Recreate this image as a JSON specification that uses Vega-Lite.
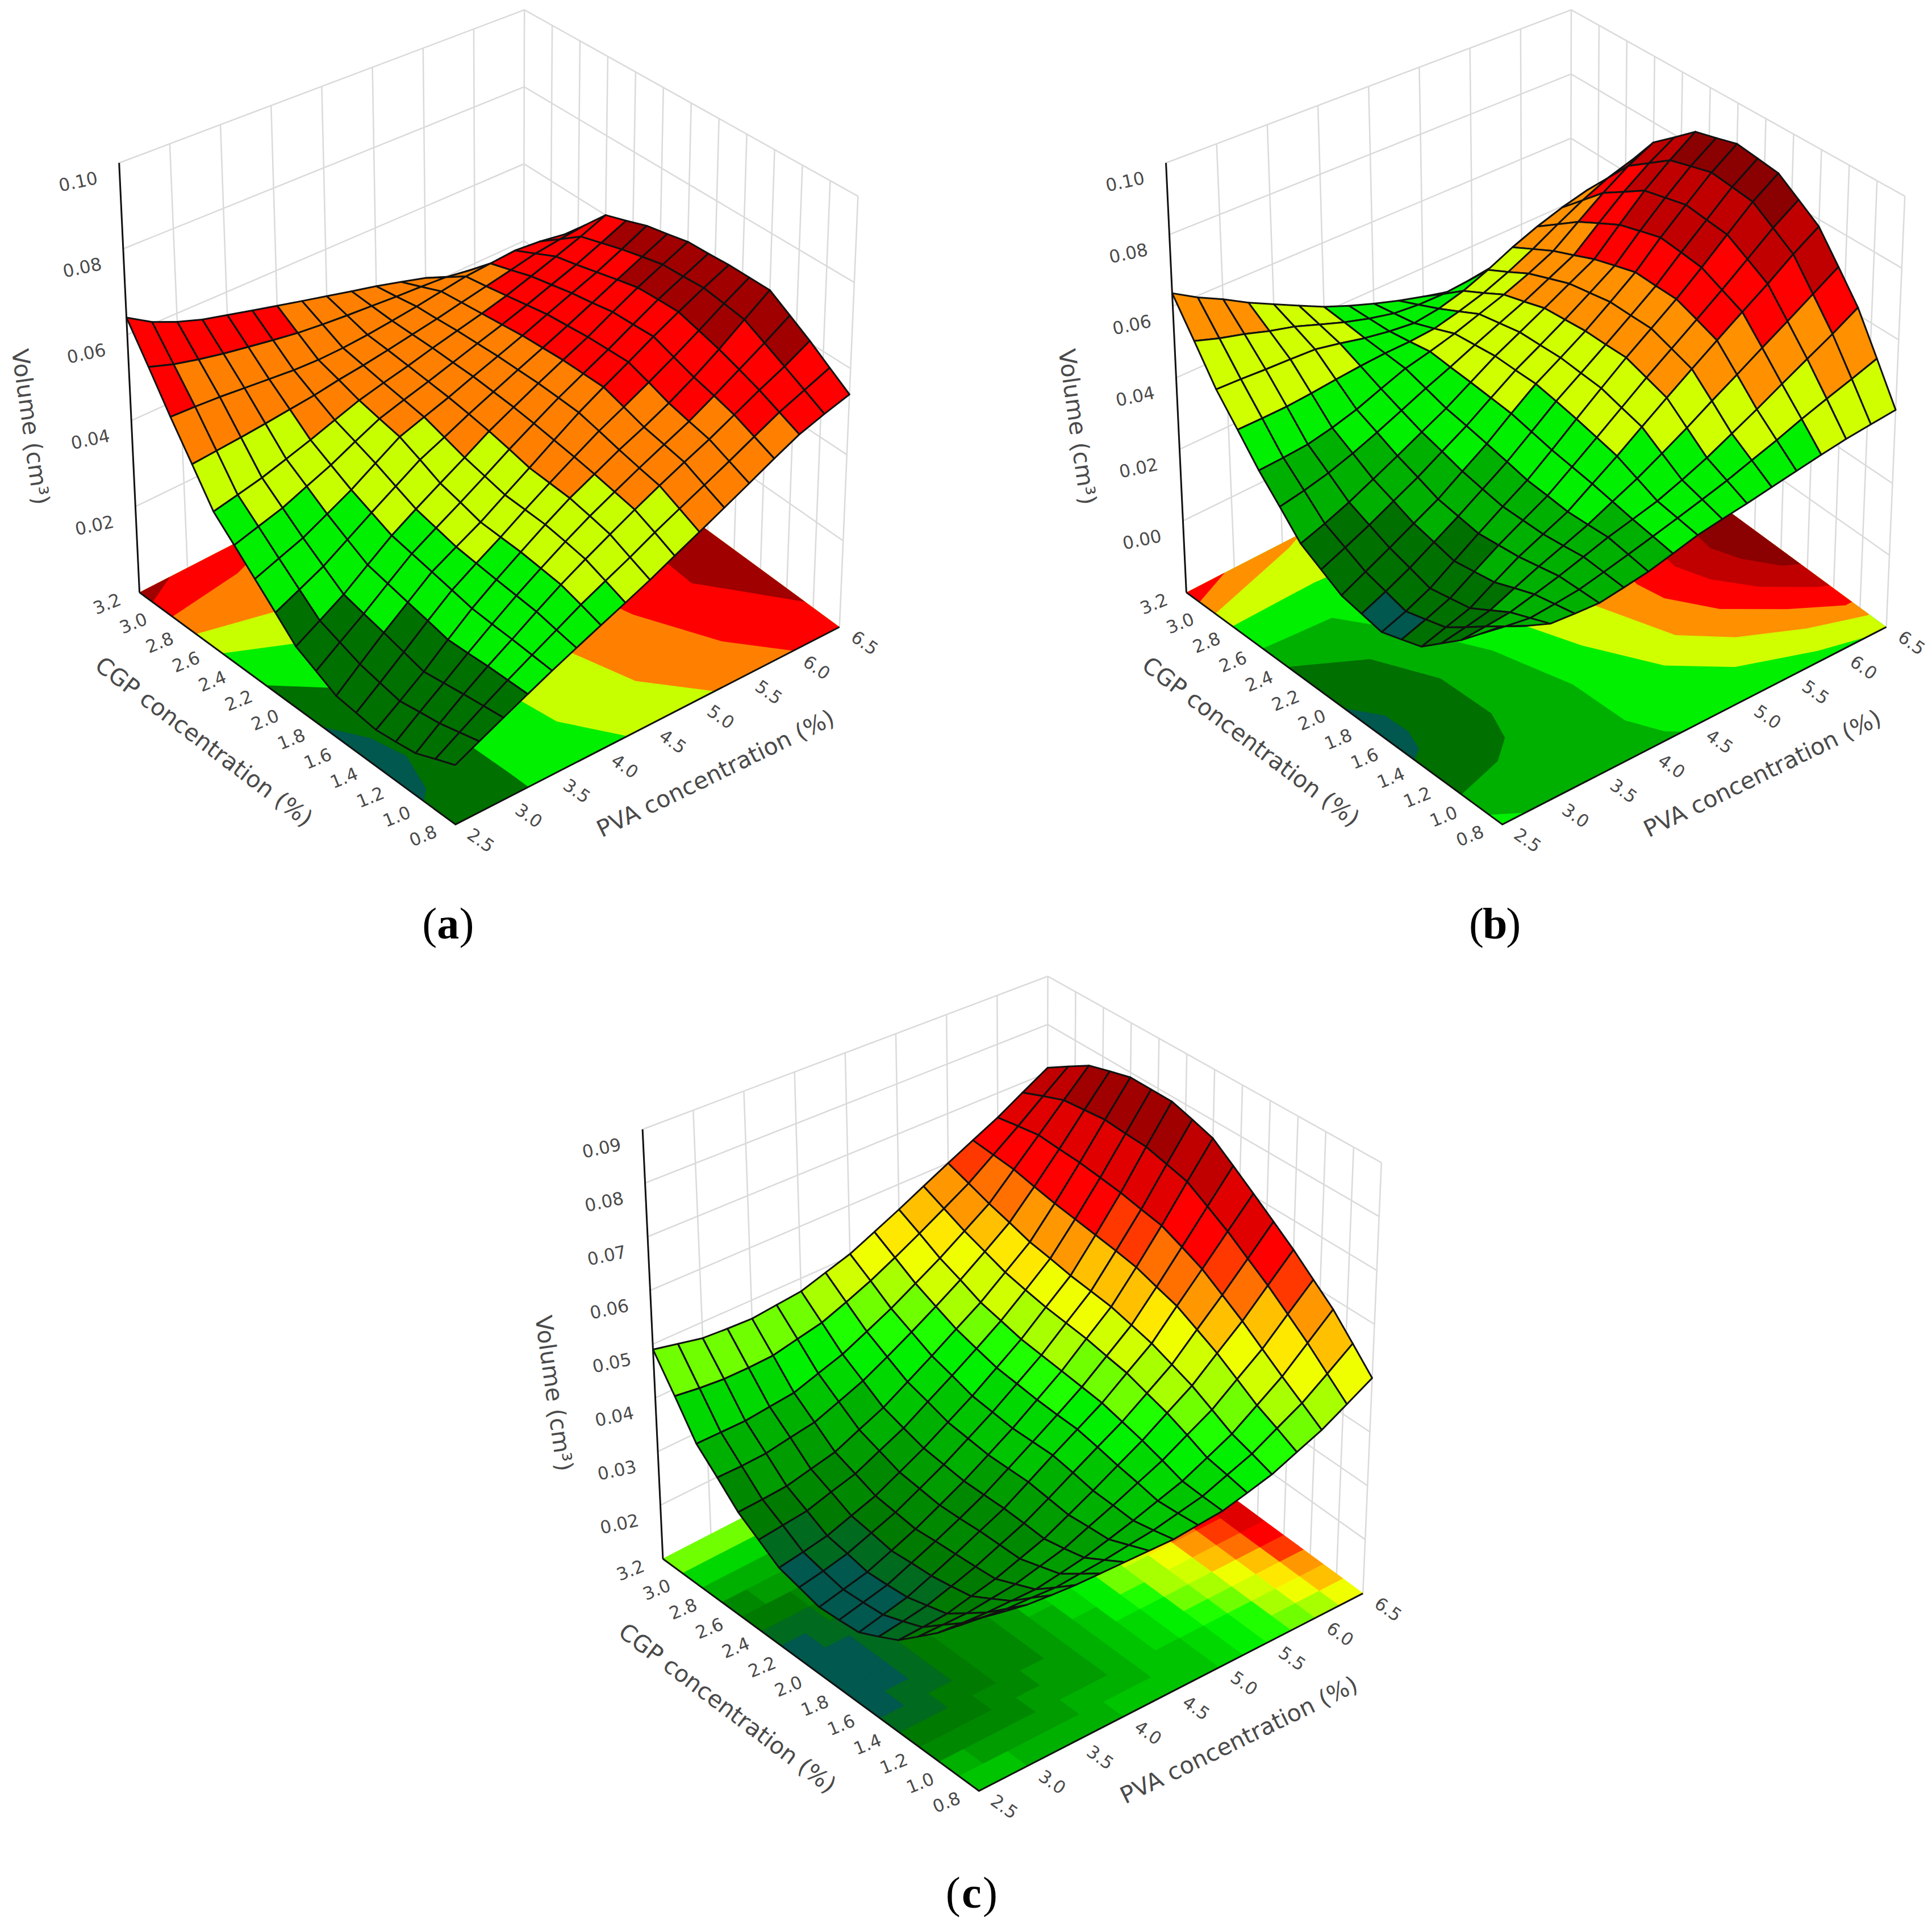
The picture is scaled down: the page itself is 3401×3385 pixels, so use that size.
{"$schema":"https://vega.github.io/schema/vega-lite/v6.json","width":3401,"height":3385,"autosize":{"type":"fit","contains":"padding"},"padding":0,"background":"white","config":{"view":{"stroke":null}},
"resolve":{"scale":{"fill":"independent","stroke":"independent"}},
"encoding":{"x":{"field":"sx","type":"quantitative","axis":null,"scale":{"domain":[0,1565],"nice":false,"zero":false}},"y":{"field":"sy","type":"quantitative","axis":null,"scale":{"domain":[0,1558],"nice":false,"zero":false,"reverse":true}}},
"datasets":{
"surfaceA":[
{"pva":6.5,"cgp":3.2,"vol":0.032},{"pva":6.25,"cgp":3.2,"vol":0.0345},{"pva":6,"cgp":3.2,"vol":0.037},{"pva":5.75,"cgp":3.2,"vol":0.0395},{"pva":5.5,"cgp":3.2,"vol":0.042},{"pva":5.25,"cgp":3.2,"vol":0.0438},{"pva":5,"cgp":3.2,"vol":0.0455},{"pva":4.75,"cgp":3.2,"vol":0.047},{"pva":4.5,"cgp":3.2,"vol":0.0485},{"pva":4.25,"cgp":3.2,"vol":0.05},{"pva":4,"cgp":3.2,"vol":0.0515},{"pva":3.75,"cgp":3.2,"vol":0.053},{"pva":3.5,"cgp":3.2,"vol":0.0545},{"pva":3.25,"cgp":3.2,"vol":0.056},{"pva":3,"cgp":3.2,"vol":0.058},{"pva":2.75,"cgp":3.2,"vol":0.0605},{"pva":2.5,"cgp":3.2,"vol":0.064},
{"pva":6.5,"cgp":3.05,"vol":0.0402},{"pva":6.25,"cgp":3.05,"vol":0.042},{"pva":6,"cgp":3.05,"vol":0.0435},{"pva":5.75,"cgp":3.05,"vol":0.0445},{"pva":5.5,"cgp":3.05,"vol":0.0455},{"pva":5.25,"cgp":3.05,"vol":0.0459},{"pva":5,"cgp":3.05,"vol":0.0462},{"pva":4.75,"cgp":3.05,"vol":0.0466},{"pva":4.5,"cgp":3.05,"vol":0.047},{"pva":4.25,"cgp":3.05,"vol":0.0475},{"pva":4,"cgp":3.05,"vol":0.0481},{"pva":3.75,"cgp":3.05,"vol":0.049},{"pva":3.5,"cgp":3.05,"vol":0.05},{"pva":3.25,"cgp":3.05,"vol":0.051},{"pva":3,"cgp":3.05,"vol":0.0522},{"pva":2.75,"cgp":3.05,"vol":0.0536},{"pva":2.5,"cgp":3.05,"vol":0.0555},
{"pva":6.5,"cgp":2.9,"vol":0.0485},{"pva":6.25,"cgp":2.9,"vol":0.0495},{"pva":6,"cgp":2.9,"vol":0.05},{"pva":5.75,"cgp":2.9,"vol":0.0495},{"pva":5.5,"cgp":2.9,"vol":0.049},{"pva":5.25,"cgp":2.9,"vol":0.048},{"pva":5,"cgp":2.9,"vol":0.047},{"pva":4.75,"cgp":2.9,"vol":0.0462},{"pva":4.5,"cgp":2.9,"vol":0.0455},{"pva":4.25,"cgp":2.9,"vol":0.045},{"pva":4,"cgp":2.9,"vol":0.0448},{"pva":3.75,"cgp":2.9,"vol":0.045},{"pva":3.5,"cgp":2.9,"vol":0.0455},{"pva":3.25,"cgp":2.9,"vol":0.046},{"pva":3,"cgp":2.9,"vol":0.0465},{"pva":2.75,"cgp":2.9,"vol":0.0468},{"pva":2.5,"cgp":2.9,"vol":0.047},
{"pva":6.5,"cgp":2.75,"vol":0.0542},{"pva":6.25,"cgp":2.75,"vol":0.0534},{"pva":6,"cgp":2.75,"vol":0.0525},{"pva":5.75,"cgp":2.75,"vol":0.0511},{"pva":5.5,"cgp":2.75,"vol":0.0498},{"pva":5.25,"cgp":2.75,"vol":0.0485},{"pva":5,"cgp":2.75,"vol":0.0472},{"pva":4.75,"cgp":2.75,"vol":0.0461},{"pva":4.5,"cgp":2.75,"vol":0.045},{"pva":4.25,"cgp":2.75,"vol":0.044},{"pva":4,"cgp":2.75,"vol":0.0432},{"pva":3.75,"cgp":2.75,"vol":0.0422},{"pva":3.5,"cgp":2.75,"vol":0.0415},{"pva":3.25,"cgp":2.75,"vol":0.0408},{"pva":3,"cgp":2.75,"vol":0.0402},{"pva":2.75,"cgp":2.75,"vol":0.0397},{"pva":2.5,"cgp":2.75,"vol":0.0392},
{"pva":6.5,"cgp":2.6,"vol":0.06},{"pva":6.25,"cgp":2.6,"vol":0.0573},{"pva":6,"cgp":2.6,"vol":0.055},{"pva":5.75,"cgp":2.6,"vol":0.0528},{"pva":5.5,"cgp":2.6,"vol":0.0507},{"pva":5.25,"cgp":2.6,"vol":0.049},{"pva":5,"cgp":2.6,"vol":0.0475},{"pva":4.75,"cgp":2.6,"vol":0.046},{"pva":4.5,"cgp":2.6,"vol":0.0444},{"pva":4.25,"cgp":2.6,"vol":0.043},{"pva":4,"cgp":2.6,"vol":0.0415},{"pva":3.75,"cgp":2.6,"vol":0.0395},{"pva":3.5,"cgp":2.6,"vol":0.0375},{"pva":3.25,"cgp":2.6,"vol":0.0357},{"pva":3,"cgp":2.6,"vol":0.034},{"pva":2.75,"cgp":2.6,"vol":0.0327},{"pva":2.5,"cgp":2.6,"vol":0.0315},
{"pva":6.5,"cgp":2.45,"vol":0.0618},{"pva":6.25,"cgp":2.45,"vol":0.0589},{"pva":6,"cgp":2.45,"vol":0.0562},{"pva":5.75,"cgp":2.45,"vol":0.0539},{"pva":5.5,"cgp":2.45,"vol":0.0516},{"pva":5.25,"cgp":2.45,"vol":0.0495},{"pva":5,"cgp":2.45,"vol":0.0476},{"pva":4.75,"cgp":2.45,"vol":0.0457},{"pva":4.5,"cgp":2.45,"vol":0.0438},{"pva":4.25,"cgp":2.45,"vol":0.0421},{"pva":4,"cgp":2.45,"vol":0.0403},{"pva":3.75,"cgp":2.45,"vol":0.0376},{"pva":3.5,"cgp":2.45,"vol":0.0348},{"pva":3.25,"cgp":2.45,"vol":0.0325},{"pva":3,"cgp":2.45,"vol":0.0302},{"pva":2.75,"cgp":2.45,"vol":0.0286},{"pva":2.5,"cgp":2.45,"vol":0.027},
{"pva":6.5,"cgp":2.3,"vol":0.0637},{"pva":6.25,"cgp":2.3,"vol":0.0605},{"pva":6,"cgp":2.3,"vol":0.0575},{"pva":5.75,"cgp":2.3,"vol":0.055},{"pva":5.5,"cgp":2.3,"vol":0.0525},{"pva":5.25,"cgp":2.3,"vol":0.05},{"pva":5,"cgp":2.3,"vol":0.0477},{"pva":4.75,"cgp":2.3,"vol":0.0455},{"pva":4.5,"cgp":2.3,"vol":0.0432},{"pva":4.25,"cgp":2.3,"vol":0.0412},{"pva":4,"cgp":2.3,"vol":0.0392},{"pva":3.75,"cgp":2.3,"vol":0.0357},{"pva":3.5,"cgp":2.3,"vol":0.0322},{"pva":3.25,"cgp":2.3,"vol":0.0293},{"pva":3,"cgp":2.3,"vol":0.0265},{"pva":2.75,"cgp":2.3,"vol":0.0245},{"pva":2.5,"cgp":2.3,"vol":0.0225},
{"pva":6.5,"cgp":2.15,"vol":0.0648},{"pva":6.25,"cgp":2.15,"vol":0.0618},{"pva":6,"cgp":2.15,"vol":0.0588},{"pva":5.75,"cgp":2.15,"vol":0.0558},{"pva":5.5,"cgp":2.15,"vol":0.0529},{"pva":5.25,"cgp":2.15,"vol":0.0502},{"pva":5,"cgp":2.15,"vol":0.0476},{"pva":4.75,"cgp":2.15,"vol":0.045},{"pva":4.5,"cgp":2.15,"vol":0.0424},{"pva":4.25,"cgp":2.15,"vol":0.0396},{"pva":4,"cgp":2.15,"vol":0.037},{"pva":3.75,"cgp":2.15,"vol":0.0335},{"pva":3.5,"cgp":2.15,"vol":0.0301},{"pva":3.25,"cgp":2.15,"vol":0.0266},{"pva":3,"cgp":2.15,"vol":0.0232},{"pva":2.75,"cgp":2.15,"vol":0.0206},{"pva":2.5,"cgp":2.15,"vol":0.0181},
{"pva":6.5,"cgp":2,"vol":0.066},{"pva":6.25,"cgp":2,"vol":0.063},{"pva":6,"cgp":2,"vol":0.06},{"pva":5.75,"cgp":2,"vol":0.0567},{"pva":5.5,"cgp":2,"vol":0.0533},{"pva":5.25,"cgp":2,"vol":0.0504},{"pva":5,"cgp":2,"vol":0.0475},{"pva":4.75,"cgp":2,"vol":0.0445},{"pva":4.5,"cgp":2,"vol":0.0415},{"pva":4.25,"cgp":2,"vol":0.038},{"pva":4,"cgp":2,"vol":0.0347},{"pva":3.75,"cgp":2,"vol":0.0314},{"pva":3.5,"cgp":2,"vol":0.028},{"pva":3.25,"cgp":2,"vol":0.024},{"pva":3,"cgp":2,"vol":0.02},{"pva":2.75,"cgp":2,"vol":0.0168},{"pva":2.5,"cgp":2,"vol":0.0137},
{"pva":6.5,"cgp":1.85,"vol":0.0662},{"pva":6.25,"cgp":1.85,"vol":0.0632},{"pva":6,"cgp":1.85,"vol":0.0602},{"pva":5.75,"cgp":1.85,"vol":0.0568},{"pva":5.5,"cgp":1.85,"vol":0.0534},{"pva":5.25,"cgp":1.85,"vol":0.0503},{"pva":5,"cgp":1.85,"vol":0.0472},{"pva":4.75,"cgp":1.85,"vol":0.0438},{"pva":4.5,"cgp":1.85,"vol":0.0404},{"pva":4.25,"cgp":1.85,"vol":0.0368},{"pva":4,"cgp":1.85,"vol":0.0334},{"pva":3.75,"cgp":1.85,"vol":0.0302},{"pva":3.5,"cgp":1.85,"vol":0.027},{"pva":3.25,"cgp":1.85,"vol":0.0229},{"pva":3,"cgp":1.85,"vol":0.0188},{"pva":2.75,"cgp":1.85,"vol":0.0151},{"pva":2.5,"cgp":1.85,"vol":0.0114},
{"pva":6.5,"cgp":1.7,"vol":0.0665},{"pva":6.25,"cgp":1.7,"vol":0.0635},{"pva":6,"cgp":1.7,"vol":0.0603},{"pva":5.75,"cgp":1.7,"vol":0.057},{"pva":5.5,"cgp":1.7,"vol":0.0535},{"pva":5.25,"cgp":1.7,"vol":0.0502},{"pva":5,"cgp":1.7,"vol":0.0468},{"pva":4.75,"cgp":1.7,"vol":0.043},{"pva":4.5,"cgp":1.7,"vol":0.0392},{"pva":4.25,"cgp":1.7,"vol":0.0356},{"pva":4,"cgp":1.7,"vol":0.032},{"pva":3.75,"cgp":1.7,"vol":0.029},{"pva":3.5,"cgp":1.7,"vol":0.026},{"pva":3.25,"cgp":1.7,"vol":0.0218},{"pva":3,"cgp":1.7,"vol":0.0177},{"pva":2.75,"cgp":1.7,"vol":0.0134},{"pva":2.5,"cgp":1.7,"vol":0.0091},
{"pva":6.5,"cgp":1.55,"vol":0.0665},{"pva":6.25,"cgp":1.55,"vol":0.0628},{"pva":6,"cgp":1.55,"vol":0.0589},{"pva":5.75,"cgp":1.55,"vol":0.0552},{"pva":5.5,"cgp":1.55,"vol":0.0518},{"pva":5.25,"cgp":1.55,"vol":0.0486},{"pva":5,"cgp":1.55,"vol":0.0456},{"pva":4.75,"cgp":1.55,"vol":0.0422},{"pva":4.5,"cgp":1.55,"vol":0.0388},{"pva":4.25,"cgp":1.55,"vol":0.0353},{"pva":4,"cgp":1.55,"vol":0.0317},{"pva":3.75,"cgp":1.55,"vol":0.0284},{"pva":3.5,"cgp":1.55,"vol":0.025},{"pva":3.25,"cgp":1.55,"vol":0.0208},{"pva":3,"cgp":1.55,"vol":0.0165},{"pva":2.75,"cgp":1.55,"vol":0.0124},{"pva":2.5,"cgp":1.55,"vol":0.0085},
{"pva":6.5,"cgp":1.4,"vol":0.0665},{"pva":6.25,"cgp":1.4,"vol":0.062},{"pva":6,"cgp":1.4,"vol":0.0575},{"pva":5.75,"cgp":1.4,"vol":0.0535},{"pva":5.5,"cgp":1.4,"vol":0.05},{"pva":5.25,"cgp":1.4,"vol":0.047},{"pva":5,"cgp":1.4,"vol":0.0443},{"pva":4.75,"cgp":1.4,"vol":0.0413},{"pva":4.5,"cgp":1.4,"vol":0.0384},{"pva":4.25,"cgp":1.4,"vol":0.035},{"pva":4,"cgp":1.4,"vol":0.0314},{"pva":3.75,"cgp":1.4,"vol":0.0278},{"pva":3.5,"cgp":1.4,"vol":0.024},{"pva":3.25,"cgp":1.4,"vol":0.0197},{"pva":3,"cgp":1.4,"vol":0.0153},{"pva":2.75,"cgp":1.4,"vol":0.0115},{"pva":2.5,"cgp":1.4,"vol":0.0079},
{"pva":6.5,"cgp":1.25,"vol":0.0635},{"pva":6.25,"cgp":1.25,"vol":0.0595},{"pva":6,"cgp":1.25,"vol":0.0558},{"pva":5.75,"cgp":1.25,"vol":0.0522},{"pva":5.5,"cgp":1.25,"vol":0.0488},{"pva":5.25,"cgp":1.25,"vol":0.046},{"pva":5,"cgp":1.25,"vol":0.0432},{"pva":4.75,"cgp":1.25,"vol":0.0403},{"pva":4.5,"cgp":1.25,"vol":0.0374},{"pva":4.25,"cgp":1.25,"vol":0.0342},{"pva":4,"cgp":1.25,"vol":0.0308},{"pva":3.75,"cgp":1.25,"vol":0.0273},{"pva":3.5,"cgp":1.25,"vol":0.0236},{"pva":3.25,"cgp":1.25,"vol":0.0198},{"pva":3,"cgp":1.25,"vol":0.0159},{"pva":2.75,"cgp":1.25,"vol":0.0122},{"pva":2.5,"cgp":1.25,"vol":0.0084},
{"pva":6.5,"cgp":1.1,"vol":0.0605},{"pva":6.25,"cgp":1.1,"vol":0.057},{"pva":6,"cgp":1.1,"vol":0.054},{"pva":5.75,"cgp":1.1,"vol":0.0508},{"pva":5.5,"cgp":1.1,"vol":0.0477},{"pva":5.25,"cgp":1.1,"vol":0.045},{"pva":5,"cgp":1.1,"vol":0.0422},{"pva":4.75,"cgp":1.1,"vol":0.0393},{"pva":4.5,"cgp":1.1,"vol":0.0363},{"pva":4.25,"cgp":1.1,"vol":0.0333},{"pva":4,"cgp":1.1,"vol":0.0302},{"pva":3.75,"cgp":1.1,"vol":0.0268},{"pva":3.5,"cgp":1.1,"vol":0.0233},{"pva":3.25,"cgp":1.1,"vol":0.02},{"pva":3,"cgp":1.1,"vol":0.0165},{"pva":2.75,"cgp":1.1,"vol":0.0128},{"pva":2.5,"cgp":1.1,"vol":0.009},
{"pva":6.5,"cgp":0.95,"vol":0.0572},{"pva":6.25,"cgp":0.95,"vol":0.0545},{"pva":6,"cgp":0.95,"vol":0.0519},{"pva":5.75,"cgp":0.95,"vol":0.0488},{"pva":5.5,"cgp":0.95,"vol":0.0457},{"pva":5.25,"cgp":0.95,"vol":0.0428},{"pva":5,"cgp":0.95,"vol":0.04},{"pva":4.75,"cgp":0.95,"vol":0.0372},{"pva":4.5,"cgp":0.95,"vol":0.0342},{"pva":4.25,"cgp":0.95,"vol":0.0315},{"pva":4,"cgp":0.95,"vol":0.0288},{"pva":3.75,"cgp":0.95,"vol":0.0258},{"pva":3.5,"cgp":0.95,"vol":0.0229},{"pva":3.25,"cgp":0.95,"vol":0.02},{"pva":3,"cgp":0.95,"vol":0.017},{"pva":2.75,"cgp":0.95,"vol":0.0139},{"pva":2.5,"cgp":0.95,"vol":0.0108},
{"pva":6.5,"cgp":0.8,"vol":0.054},{"pva":6.25,"cgp":0.8,"vol":0.052},{"pva":6,"cgp":0.8,"vol":0.0498},{"pva":5.75,"cgp":0.8,"vol":0.0468},{"pva":5.5,"cgp":0.8,"vol":0.0437},{"pva":5.25,"cgp":0.8,"vol":0.0407},{"pva":5,"cgp":0.8,"vol":0.0378},{"pva":4.75,"cgp":0.8,"vol":0.035},{"pva":4.5,"cgp":0.8,"vol":0.0322},{"pva":4.25,"cgp":0.8,"vol":0.0297},{"pva":4,"cgp":0.8,"vol":0.0273},{"pva":3.75,"cgp":0.8,"vol":0.0249},{"pva":3.5,"cgp":0.8,"vol":0.0225},{"pva":3.25,"cgp":0.8,"vol":0.02},{"pva":3,"cgp":0.8,"vol":0.0175},{"pva":2.75,"cgp":0.8,"vol":0.015},{"pva":2.5,"cgp":0.8,"vol":0.0125}],
"surfaceB":[
{"pva":6.5,"cgp":3.2,"vol":0.03},{"pva":6.25,"cgp":3.2,"vol":0.028},{"pva":6,"cgp":3.2,"vol":0.0265},{"pva":5.75,"cgp":3.2,"vol":0.027},{"pva":5.5,"cgp":3.2,"vol":0.028},{"pva":5.25,"cgp":3.2,"vol":0.0296},{"pva":5,"cgp":3.2,"vol":0.0315},{"pva":4.75,"cgp":3.2,"vol":0.0336},{"pva":4.5,"cgp":3.2,"vol":0.036},{"pva":4.25,"cgp":3.2,"vol":0.0386},{"pva":4,"cgp":3.2,"vol":0.0415},{"pva":3.75,"cgp":3.2,"vol":0.045},{"pva":3.5,"cgp":3.2,"vol":0.0485},{"pva":3.25,"cgp":3.2,"vol":0.052},{"pva":3,"cgp":3.2,"vol":0.056},{"pva":2.75,"cgp":3.2,"vol":0.0595},{"pva":2.5,"cgp":3.2,"vol":0.0636},
{"pva":6.5,"cgp":3.05,"vol":0.043},{"pva":6.25,"cgp":3.05,"vol":0.0415},{"pva":6,"cgp":3.05,"vol":0.0398},{"pva":5.75,"cgp":3.05,"vol":0.0388},{"pva":5.5,"cgp":3.05,"vol":0.0378},{"pva":5.25,"cgp":3.05,"vol":0.0368},{"pva":5,"cgp":3.05,"vol":0.0362},{"pva":4.75,"cgp":3.05,"vol":0.0363},{"pva":4.5,"cgp":3.05,"vol":0.037},{"pva":4.25,"cgp":3.05,"vol":0.0387},{"pva":4,"cgp":3.05,"vol":0.0408},{"pva":3.75,"cgp":3.05,"vol":0.0433},{"pva":3.5,"cgp":3.05,"vol":0.0458},{"pva":3.25,"cgp":3.05,"vol":0.0476},{"pva":3,"cgp":3.05,"vol":0.0498},{"pva":2.75,"cgp":3.05,"vol":0.0516},{"pva":2.5,"cgp":3.05,"vol":0.0538},
{"pva":6.5,"cgp":2.9,"vol":0.056},{"pva":6.25,"cgp":2.9,"vol":0.055},{"pva":6,"cgp":2.9,"vol":0.053},{"pva":5.75,"cgp":2.9,"vol":0.0505},{"pva":5.5,"cgp":2.9,"vol":0.0475},{"pva":5.25,"cgp":2.9,"vol":0.044},{"pva":5,"cgp":2.9,"vol":0.041},{"pva":4.75,"cgp":2.9,"vol":0.039},{"pva":4.5,"cgp":2.9,"vol":0.038},{"pva":4.25,"cgp":2.9,"vol":0.0388},{"pva":4,"cgp":2.9,"vol":0.04},{"pva":3.75,"cgp":2.9,"vol":0.0416},{"pva":3.5,"cgp":2.9,"vol":0.043},{"pva":3.25,"cgp":2.9,"vol":0.0433},{"pva":3,"cgp":2.9,"vol":0.0435},{"pva":2.75,"cgp":2.9,"vol":0.0438},{"pva":2.5,"cgp":2.9,"vol":0.044},
{"pva":6.5,"cgp":2.75,"vol":0.065},{"pva":6.25,"cgp":2.75,"vol":0.0625},{"pva":6,"cgp":2.75,"vol":0.059},{"pva":5.75,"cgp":2.75,"vol":0.055},{"pva":5.5,"cgp":2.75,"vol":0.0508},{"pva":5.25,"cgp":2.75,"vol":0.0472},{"pva":5,"cgp":2.75,"vol":0.0442},{"pva":4.75,"cgp":2.75,"vol":0.042},{"pva":4.5,"cgp":2.75,"vol":0.0402},{"pva":4.25,"cgp":2.75,"vol":0.0396},{"pva":4,"cgp":2.75,"vol":0.0394},{"pva":3.75,"cgp":2.75,"vol":0.0389},{"pva":3.5,"cgp":2.75,"vol":0.0382},{"pva":3.25,"cgp":2.75,"vol":0.0374},{"pva":3,"cgp":2.75,"vol":0.0368},{"pva":2.75,"cgp":2.75,"vol":0.0366},{"pva":2.5,"cgp":2.75,"vol":0.0365},
{"pva":6.5,"cgp":2.6,"vol":0.074},{"pva":6.25,"cgp":2.6,"vol":0.07},{"pva":6,"cgp":2.6,"vol":0.065},{"pva":5.75,"cgp":2.6,"vol":0.0595},{"pva":5.5,"cgp":2.6,"vol":0.054},{"pva":5.25,"cgp":2.6,"vol":0.0505},{"pva":5,"cgp":2.6,"vol":0.0475},{"pva":4.75,"cgp":2.6,"vol":0.045},{"pva":4.5,"cgp":2.6,"vol":0.0425},{"pva":4.25,"cgp":2.6,"vol":0.0405},{"pva":4,"cgp":2.6,"vol":0.0388},{"pva":3.75,"cgp":2.6,"vol":0.0362},{"pva":3.5,"cgp":2.6,"vol":0.0335},{"pva":3.25,"cgp":2.6,"vol":0.0315},{"pva":3,"cgp":2.6,"vol":0.03},{"pva":2.75,"cgp":2.6,"vol":0.0294},{"pva":2.5,"cgp":2.6,"vol":0.029},
{"pva":6.5,"cgp":2.45,"vol":0.0792},{"pva":6.25,"cgp":2.45,"vol":0.0745},{"pva":6,"cgp":2.45,"vol":0.069},{"pva":5.75,"cgp":2.45,"vol":0.0628},{"pva":5.5,"cgp":2.45,"vol":0.0565},{"pva":5.25,"cgp":2.45,"vol":0.0528},{"pva":5,"cgp":2.45,"vol":0.0492},{"pva":4.75,"cgp":2.45,"vol":0.0461},{"pva":4.5,"cgp":2.45,"vol":0.043},{"pva":4.25,"cgp":2.45,"vol":0.0398},{"pva":4,"cgp":2.45,"vol":0.0369},{"pva":3.75,"cgp":2.45,"vol":0.0338},{"pva":3.5,"cgp":2.45,"vol":0.0308},{"pva":3.25,"cgp":2.45,"vol":0.0281},{"pva":3,"cgp":2.45,"vol":0.0258},{"pva":2.75,"cgp":2.45,"vol":0.0241},{"pva":2.5,"cgp":2.45,"vol":0.0228},
{"pva":6.5,"cgp":2.3,"vol":0.0845},{"pva":6.25,"cgp":2.3,"vol":0.079},{"pva":6,"cgp":2.3,"vol":0.073},{"pva":5.75,"cgp":2.3,"vol":0.066},{"pva":5.5,"cgp":2.3,"vol":0.059},{"pva":5.25,"cgp":2.3,"vol":0.055},{"pva":5,"cgp":2.3,"vol":0.051},{"pva":4.75,"cgp":2.3,"vol":0.0472},{"pva":4.5,"cgp":2.3,"vol":0.0435},{"pva":4.25,"cgp":2.3,"vol":0.0392},{"pva":4,"cgp":2.3,"vol":0.035},{"pva":3.75,"cgp":2.3,"vol":0.0315},{"pva":3.5,"cgp":2.3,"vol":0.028},{"pva":3.25,"cgp":2.3,"vol":0.0247},{"pva":3,"cgp":2.3,"vol":0.0215},{"pva":2.75,"cgp":2.3,"vol":0.0188},{"pva":2.5,"cgp":2.3,"vol":0.0165},
{"pva":6.5,"cgp":2.15,"vol":0.0862},{"pva":6.25,"cgp":2.15,"vol":0.0808},{"pva":6,"cgp":2.15,"vol":0.0745},{"pva":5.75,"cgp":2.15,"vol":0.0678},{"pva":5.5,"cgp":2.15,"vol":0.0608},{"pva":5.25,"cgp":2.15,"vol":0.056},{"pva":5,"cgp":2.15,"vol":0.0514},{"pva":4.75,"cgp":2.15,"vol":0.0472},{"pva":4.5,"cgp":2.15,"vol":0.0432},{"pva":4.25,"cgp":2.15,"vol":0.0385},{"pva":4,"cgp":2.15,"vol":0.0338},{"pva":3.75,"cgp":2.15,"vol":0.0298},{"pva":3.5,"cgp":2.15,"vol":0.0258},{"pva":3.25,"cgp":2.15,"vol":0.0224},{"pva":3,"cgp":2.15,"vol":0.019},{"pva":2.75,"cgp":2.15,"vol":0.016},{"pva":2.5,"cgp":2.15,"vol":0.0132},
{"pva":6.5,"cgp":2,"vol":0.088},{"pva":6.25,"cgp":2,"vol":0.0825},{"pva":6,"cgp":2,"vol":0.076},{"pva":5.75,"cgp":2,"vol":0.0695},{"pva":5.5,"cgp":2,"vol":0.0625},{"pva":5.25,"cgp":2,"vol":0.057},{"pva":5,"cgp":2,"vol":0.0518},{"pva":4.75,"cgp":2,"vol":0.0473},{"pva":4.5,"cgp":2,"vol":0.043},{"pva":4.25,"cgp":2,"vol":0.0378},{"pva":4,"cgp":2,"vol":0.0325},{"pva":3.75,"cgp":2,"vol":0.028},{"pva":3.5,"cgp":2,"vol":0.0235},{"pva":3.25,"cgp":2,"vol":0.02},{"pva":3,"cgp":2,"vol":0.0165},{"pva":2.75,"cgp":2,"vol":0.0132},{"pva":2.5,"cgp":2,"vol":0.01},
{"pva":6.5,"cgp":1.85,"vol":0.0872},{"pva":6.25,"cgp":1.85,"vol":0.0818},{"pva":6,"cgp":1.85,"vol":0.0752},{"pva":5.75,"cgp":1.85,"vol":0.0688},{"pva":5.5,"cgp":1.85,"vol":0.0622},{"pva":5.25,"cgp":1.85,"vol":0.0568},{"pva":5,"cgp":1.85,"vol":0.0516},{"pva":4.75,"cgp":1.85,"vol":0.0466},{"pva":4.5,"cgp":1.85,"vol":0.0418},{"pva":4.25,"cgp":1.85,"vol":0.0364},{"pva":4,"cgp":1.85,"vol":0.0312},{"pva":3.75,"cgp":1.85,"vol":0.0268},{"pva":3.5,"cgp":1.85,"vol":0.0225},{"pva":3.25,"cgp":1.85,"vol":0.0186},{"pva":3,"cgp":1.85,"vol":0.0148},{"pva":2.75,"cgp":1.85,"vol":0.0116},{"pva":2.5,"cgp":1.85,"vol":0.0088},
{"pva":6.5,"cgp":1.7,"vol":0.0864},{"pva":6.25,"cgp":1.7,"vol":0.081},{"pva":6,"cgp":1.7,"vol":0.0745},{"pva":5.75,"cgp":1.7,"vol":0.068},{"pva":5.5,"cgp":1.7,"vol":0.062},{"pva":5.25,"cgp":1.7,"vol":0.0567},{"pva":5,"cgp":1.7,"vol":0.0515},{"pva":4.75,"cgp":1.7,"vol":0.046},{"pva":4.5,"cgp":1.7,"vol":0.0405},{"pva":4.25,"cgp":1.7,"vol":0.035},{"pva":4,"cgp":1.7,"vol":0.0298},{"pva":3.75,"cgp":1.7,"vol":0.0257},{"pva":3.5,"cgp":1.7,"vol":0.0215},{"pva":3.25,"cgp":1.7,"vol":0.0172},{"pva":3,"cgp":1.7,"vol":0.013},{"pva":2.75,"cgp":1.7,"vol":0.01},{"pva":2.5,"cgp":1.7,"vol":0.0076},
{"pva":6.5,"cgp":1.55,"vol":0.0822},{"pva":6.25,"cgp":1.55,"vol":0.077},{"pva":6,"cgp":1.55,"vol":0.071},{"pva":5.75,"cgp":1.55,"vol":0.0652},{"pva":5.5,"cgp":1.55,"vol":0.0598},{"pva":5.25,"cgp":1.55,"vol":0.0546},{"pva":5,"cgp":1.55,"vol":0.0495},{"pva":4.75,"cgp":1.55,"vol":0.0442},{"pva":4.5,"cgp":1.55,"vol":0.039},{"pva":4.25,"cgp":1.55,"vol":0.034},{"pva":4,"cgp":1.55,"vol":0.0292},{"pva":3.75,"cgp":1.55,"vol":0.0256},{"pva":3.5,"cgp":1.55,"vol":0.022},{"pva":3.25,"cgp":1.55,"vol":0.018},{"pva":3,"cgp":1.55,"vol":0.014},{"pva":2.75,"cgp":1.55,"vol":0.0115},{"pva":2.5,"cgp":1.55,"vol":0.0093},
{"pva":6.5,"cgp":1.4,"vol":0.078},{"pva":6.25,"cgp":1.4,"vol":0.073},{"pva":6,"cgp":1.4,"vol":0.0675},{"pva":5.75,"cgp":1.4,"vol":0.0625},{"pva":5.5,"cgp":1.4,"vol":0.0575},{"pva":5.25,"cgp":1.4,"vol":0.0525},{"pva":5,"cgp":1.4,"vol":0.0475},{"pva":4.75,"cgp":1.4,"vol":0.0425},{"pva":4.5,"cgp":1.4,"vol":0.0375},{"pva":4.25,"cgp":1.4,"vol":0.033},{"pva":4,"cgp":1.4,"vol":0.0285},{"pva":3.75,"cgp":1.4,"vol":0.0255},{"pva":3.5,"cgp":1.4,"vol":0.0225},{"pva":3.25,"cgp":1.4,"vol":0.0188},{"pva":3,"cgp":1.4,"vol":0.015},{"pva":2.75,"cgp":1.4,"vol":0.013},{"pva":2.5,"cgp":1.4,"vol":0.011},
{"pva":6.5,"cgp":1.25,"vol":0.07},{"pva":6.25,"cgp":1.25,"vol":0.0652},{"pva":6,"cgp":1.25,"vol":0.0605},{"pva":5.75,"cgp":1.25,"vol":0.056},{"pva":5.5,"cgp":1.25,"vol":0.0515},{"pva":5.25,"cgp":1.25,"vol":0.0472},{"pva":5,"cgp":1.25,"vol":0.0428},{"pva":4.75,"cgp":1.25,"vol":0.0388},{"pva":4.5,"cgp":1.25,"vol":0.035},{"pva":4.25,"cgp":1.25,"vol":0.0318},{"pva":4,"cgp":1.25,"vol":0.0286},{"pva":3.75,"cgp":1.25,"vol":0.026},{"pva":3.5,"cgp":1.25,"vol":0.0235},{"pva":3.25,"cgp":1.25,"vol":0.0208},{"pva":3,"cgp":1.25,"vol":0.018},{"pva":2.75,"cgp":1.25,"vol":0.0166},{"pva":2.5,"cgp":1.25,"vol":0.0154},
{"pva":6.5,"cgp":1.1,"vol":0.062},{"pva":6.25,"cgp":1.1,"vol":0.0575},{"pva":6,"cgp":1.1,"vol":0.0535},{"pva":5.75,"cgp":1.1,"vol":0.0495},{"pva":5.5,"cgp":1.1,"vol":0.0455},{"pva":5.25,"cgp":1.1,"vol":0.0418},{"pva":5,"cgp":1.1,"vol":0.0382},{"pva":4.75,"cgp":1.1,"vol":0.0352},{"pva":4.5,"cgp":1.1,"vol":0.0325},{"pva":4.25,"cgp":1.1,"vol":0.0306},{"pva":4,"cgp":1.1,"vol":0.0288},{"pva":3.75,"cgp":1.1,"vol":0.0266},{"pva":3.5,"cgp":1.1,"vol":0.0245},{"pva":3.25,"cgp":1.1,"vol":0.0227},{"pva":3,"cgp":1.1,"vol":0.021},{"pva":2.75,"cgp":1.1,"vol":0.0203},{"pva":2.5,"cgp":1.1,"vol":0.0197},
{"pva":6.5,"cgp":0.95,"vol":0.0512},{"pva":6.25,"cgp":0.95,"vol":0.0485},{"pva":6,"cgp":0.95,"vol":0.046},{"pva":5.75,"cgp":0.95,"vol":0.0434},{"pva":5.5,"cgp":0.95,"vol":0.0406},{"pva":5.25,"cgp":0.95,"vol":0.0381},{"pva":5,"cgp":0.95,"vol":0.0356},{"pva":4.75,"cgp":0.95,"vol":0.0335},{"pva":4.5,"cgp":0.95,"vol":0.0315},{"pva":4.25,"cgp":0.95,"vol":0.0296},{"pva":4,"cgp":0.95,"vol":0.0278},{"pva":3.75,"cgp":0.95,"vol":0.0261},{"pva":3.5,"cgp":0.95,"vol":0.0245},{"pva":3.25,"cgp":0.95,"vol":0.0237},{"pva":3,"cgp":0.95,"vol":0.023},{"pva":2.75,"cgp":0.95,"vol":0.0238},{"pva":2.5,"cgp":0.95,"vol":0.0248},
{"pva":6.5,"cgp":0.8,"vol":0.0405},{"pva":6.25,"cgp":0.8,"vol":0.0395},{"pva":6,"cgp":0.8,"vol":0.0385},{"pva":5.75,"cgp":0.8,"vol":0.0372},{"pva":5.5,"cgp":0.8,"vol":0.0358},{"pva":5.25,"cgp":0.8,"vol":0.0344},{"pva":5,"cgp":0.8,"vol":0.033},{"pva":4.75,"cgp":0.8,"vol":0.0318},{"pva":4.5,"cgp":0.8,"vol":0.0305},{"pva":4.25,"cgp":0.8,"vol":0.0286},{"pva":4,"cgp":0.8,"vol":0.0268},{"pva":3.75,"cgp":0.8,"vol":0.0256},{"pva":3.5,"cgp":0.8,"vol":0.0245},{"pva":3.25,"cgp":0.8,"vol":0.0247},{"pva":3,"cgp":0.8,"vol":0.025},{"pva":2.75,"cgp":0.8,"vol":0.0273},{"pva":2.5,"cgp":0.8,"vol":0.03}],
"surfaceC":[
{"pva":6.5,"cgp":3.2,"vol":0.071},{"pva":6.25,"cgp":3.2,"vol":0.068},{"pva":6,"cgp":3.2,"vol":0.065},{"pva":5.75,"cgp":3.2,"vol":0.0625},{"pva":5.5,"cgp":3.2,"vol":0.06},{"pva":5.25,"cgp":3.2,"vol":0.0575},{"pva":5,"cgp":3.2,"vol":0.055},{"pva":4.75,"cgp":3.2,"vol":0.0527},{"pva":4.5,"cgp":3.2,"vol":0.0505},{"pva":4.25,"cgp":3.2,"vol":0.049},{"pva":4,"cgp":3.2,"vol":0.0475},{"pva":3.75,"cgp":3.2,"vol":0.047},{"pva":3.5,"cgp":3.2,"vol":0.0465},{"pva":3.25,"cgp":3.2,"vol":0.0467},{"pva":3,"cgp":3.2,"vol":0.047},{"pva":2.75,"cgp":3.2,"vol":0.048},{"pva":2.5,"cgp":3.2,"vol":0.049},
{"pva":6.5,"cgp":3.05,"vol":0.0738},{"pva":6.25,"cgp":3.05,"vol":0.0698},{"pva":6,"cgp":3.05,"vol":0.0658},{"pva":5.75,"cgp":3.05,"vol":0.0621},{"pva":5.5,"cgp":3.05,"vol":0.0585},{"pva":5.25,"cgp":3.05,"vol":0.0556},{"pva":5,"cgp":3.05,"vol":0.0528},{"pva":4.75,"cgp":3.05,"vol":0.0502},{"pva":4.5,"cgp":3.05,"vol":0.0478},{"pva":4.25,"cgp":3.05,"vol":0.0458},{"pva":4,"cgp":3.05,"vol":0.044},{"pva":3.75,"cgp":3.05,"vol":0.043},{"pva":3.5,"cgp":3.05,"vol":0.042},{"pva":3.25,"cgp":3.05,"vol":0.0418},{"pva":3,"cgp":3.05,"vol":0.0418},{"pva":2.75,"cgp":3.05,"vol":0.0422},{"pva":2.5,"cgp":3.05,"vol":0.0428},
{"pva":6.5,"cgp":2.9,"vol":0.0765},{"pva":6.25,"cgp":2.9,"vol":0.0715},{"pva":6,"cgp":2.9,"vol":0.0665},{"pva":5.75,"cgp":2.9,"vol":0.0617},{"pva":5.5,"cgp":2.9,"vol":0.057},{"pva":5.25,"cgp":2.9,"vol":0.0537},{"pva":5,"cgp":2.9,"vol":0.0505},{"pva":4.75,"cgp":2.9,"vol":0.0477},{"pva":4.5,"cgp":2.9,"vol":0.045},{"pva":4.25,"cgp":2.9,"vol":0.0427},{"pva":4,"cgp":2.9,"vol":0.0405},{"pva":3.75,"cgp":2.9,"vol":0.039},{"pva":3.5,"cgp":2.9,"vol":0.0375},{"pva":3.25,"cgp":2.9,"vol":0.037},{"pva":3,"cgp":2.9,"vol":0.0365},{"pva":2.75,"cgp":2.9,"vol":0.0365},{"pva":2.5,"cgp":2.9,"vol":0.0365},
{"pva":6.5,"cgp":2.75,"vol":0.0778},{"pva":6.25,"cgp":2.75,"vol":0.072},{"pva":6,"cgp":2.75,"vol":0.0662},{"pva":5.75,"cgp":2.75,"vol":0.0608},{"pva":5.5,"cgp":2.75,"vol":0.0558},{"pva":5.25,"cgp":2.75,"vol":0.0522},{"pva":5,"cgp":2.75,"vol":0.0488},{"pva":4.75,"cgp":2.75,"vol":0.0458},{"pva":4.5,"cgp":2.75,"vol":0.043},{"pva":4.25,"cgp":2.75,"vol":0.0404},{"pva":4,"cgp":2.75,"vol":0.038},{"pva":3.75,"cgp":2.75,"vol":0.0362},{"pva":3.5,"cgp":2.75,"vol":0.0345},{"pva":3.25,"cgp":2.75,"vol":0.0338},{"pva":3,"cgp":2.75,"vol":0.033},{"pva":2.75,"cgp":2.75,"vol":0.0328},{"pva":2.5,"cgp":2.75,"vol":0.0328},
{"pva":6.5,"cgp":2.6,"vol":0.079},{"pva":6.25,"cgp":2.6,"vol":0.0725},{"pva":6,"cgp":2.6,"vol":0.066},{"pva":5.75,"cgp":2.6,"vol":0.06},{"pva":5.5,"cgp":2.6,"vol":0.0545},{"pva":5.25,"cgp":2.6,"vol":0.0507},{"pva":5,"cgp":2.6,"vol":0.047},{"pva":4.75,"cgp":2.6,"vol":0.044},{"pva":4.5,"cgp":2.6,"vol":0.041},{"pva":4.25,"cgp":2.6,"vol":0.0382},{"pva":4,"cgp":2.6,"vol":0.0355},{"pva":3.75,"cgp":2.6,"vol":0.0335},{"pva":3.5,"cgp":2.6,"vol":0.0315},{"pva":3.25,"cgp":2.6,"vol":0.0305},{"pva":3,"cgp":2.6,"vol":0.0295},{"pva":2.75,"cgp":2.6,"vol":0.0292},{"pva":2.5,"cgp":2.6,"vol":0.029},
{"pva":6.5,"cgp":2.45,"vol":0.079},{"pva":6.25,"cgp":2.45,"vol":0.0722},{"pva":6,"cgp":2.45,"vol":0.0655},{"pva":5.75,"cgp":2.45,"vol":0.0594},{"pva":5.5,"cgp":2.45,"vol":0.0538},{"pva":5.25,"cgp":2.45,"vol":0.0498},{"pva":5,"cgp":2.45,"vol":0.046},{"pva":4.75,"cgp":2.45,"vol":0.0428},{"pva":4.5,"cgp":2.45,"vol":0.0398},{"pva":4.25,"cgp":2.45,"vol":0.037},{"pva":4,"cgp":2.45,"vol":0.0342},{"pva":3.75,"cgp":2.45,"vol":0.0321},{"pva":3.5,"cgp":2.45,"vol":0.03},{"pva":3.25,"cgp":2.45,"vol":0.0288},{"pva":3,"cgp":2.45,"vol":0.0275},{"pva":2.75,"cgp":2.45,"vol":0.027},{"pva":2.5,"cgp":2.45,"vol":0.0265},
{"pva":6.5,"cgp":2.3,"vol":0.079},{"pva":6.25,"cgp":2.3,"vol":0.072},{"pva":6,"cgp":2.3,"vol":0.065},{"pva":5.75,"cgp":2.3,"vol":0.0588},{"pva":5.5,"cgp":2.3,"vol":0.053},{"pva":5.25,"cgp":2.3,"vol":0.049},{"pva":5,"cgp":2.3,"vol":0.045},{"pva":4.75,"cgp":2.3,"vol":0.0417},{"pva":4.5,"cgp":2.3,"vol":0.0385},{"pva":4.25,"cgp":2.3,"vol":0.0357},{"pva":4,"cgp":2.3,"vol":0.033},{"pva":3.75,"cgp":2.3,"vol":0.0307},{"pva":3.5,"cgp":2.3,"vol":0.0285},{"pva":3.25,"cgp":2.3,"vol":0.027},{"pva":3,"cgp":2.3,"vol":0.0255},{"pva":2.75,"cgp":2.3,"vol":0.0247},{"pva":2.5,"cgp":2.3,"vol":0.024},
{"pva":6.5,"cgp":2.15,"vol":0.0778},{"pva":6.25,"cgp":2.15,"vol":0.071},{"pva":6,"cgp":2.15,"vol":0.0642},{"pva":5.75,"cgp":2.15,"vol":0.0582},{"pva":5.5,"cgp":2.15,"vol":0.0525},{"pva":5.25,"cgp":2.15,"vol":0.0485},{"pva":5,"cgp":2.15,"vol":0.0445},{"pva":4.75,"cgp":2.15,"vol":0.0412},{"pva":4.5,"cgp":2.15,"vol":0.038},{"pva":4.25,"cgp":2.15,"vol":0.0352},{"pva":4,"cgp":2.15,"vol":0.0325},{"pva":3.75,"cgp":2.15,"vol":0.0302},{"pva":3.5,"cgp":2.15,"vol":0.028},{"pva":3.25,"cgp":2.15,"vol":0.0264},{"pva":3,"cgp":2.15,"vol":0.0248},{"pva":2.75,"cgp":2.15,"vol":0.0238},{"pva":2.5,"cgp":2.15,"vol":0.023},
{"pva":6.5,"cgp":2,"vol":0.0765},{"pva":6.25,"cgp":2,"vol":0.07},{"pva":6,"cgp":2,"vol":0.0635},{"pva":5.75,"cgp":2,"vol":0.0575},{"pva":5.5,"cgp":2,"vol":0.052},{"pva":5.25,"cgp":2,"vol":0.048},{"pva":5,"cgp":2,"vol":0.044},{"pva":4.75,"cgp":2,"vol":0.0407},{"pva":4.5,"cgp":2,"vol":0.0375},{"pva":4.25,"cgp":2,"vol":0.0347},{"pva":4,"cgp":2,"vol":0.032},{"pva":3.75,"cgp":2,"vol":0.0297},{"pva":3.5,"cgp":2,"vol":0.0275},{"pva":3.25,"cgp":2,"vol":0.0257},{"pva":3,"cgp":2,"vol":0.024},{"pva":2.75,"cgp":2,"vol":0.023},{"pva":2.5,"cgp":2,"vol":0.022},
{"pva":6.5,"cgp":1.85,"vol":0.0735},{"pva":6.25,"cgp":1.85,"vol":0.0676},{"pva":6,"cgp":1.85,"vol":0.0618},{"pva":5.75,"cgp":1.85,"vol":0.0562},{"pva":5.5,"cgp":1.85,"vol":0.051},{"pva":5.25,"cgp":1.85,"vol":0.0472},{"pva":5,"cgp":1.85,"vol":0.0435},{"pva":4.75,"cgp":1.85,"vol":0.0404},{"pva":4.5,"cgp":1.85,"vol":0.0375},{"pva":4.25,"cgp":1.85,"vol":0.0347},{"pva":4,"cgp":1.85,"vol":0.032},{"pva":3.75,"cgp":1.85,"vol":0.0298},{"pva":3.5,"cgp":1.85,"vol":0.0278},{"pva":3.25,"cgp":1.85,"vol":0.026},{"pva":3,"cgp":1.85,"vol":0.0242},{"pva":2.75,"cgp":1.85,"vol":0.0232},{"pva":2.5,"cgp":1.85,"vol":0.0222},
{"pva":6.5,"cgp":1.7,"vol":0.0705},{"pva":6.25,"cgp":1.7,"vol":0.0652},{"pva":6,"cgp":1.7,"vol":0.06},{"pva":5.75,"cgp":1.7,"vol":0.055},{"pva":5.5,"cgp":1.7,"vol":0.05},{"pva":5.25,"cgp":1.7,"vol":0.0465},{"pva":5,"cgp":1.7,"vol":0.043},{"pva":4.75,"cgp":1.7,"vol":0.0402},{"pva":4.5,"cgp":1.7,"vol":0.0375},{"pva":4.25,"cgp":1.7,"vol":0.0347},{"pva":4,"cgp":1.7,"vol":0.032},{"pva":3.75,"cgp":1.7,"vol":0.03},{"pva":3.5,"cgp":1.7,"vol":0.028},{"pva":3.25,"cgp":1.7,"vol":0.0262},{"pva":3,"cgp":1.7,"vol":0.0245},{"pva":2.75,"cgp":1.7,"vol":0.0235},{"pva":2.5,"cgp":1.7,"vol":0.0225},
{"pva":6.5,"cgp":1.55,"vol":0.0675},{"pva":6.25,"cgp":1.55,"vol":0.0624},{"pva":6,"cgp":1.55,"vol":0.0575},{"pva":5.75,"cgp":1.55,"vol":0.053},{"pva":5.5,"cgp":1.55,"vol":0.0485},{"pva":5.25,"cgp":1.55,"vol":0.0452},{"pva":5,"cgp":1.55,"vol":0.042},{"pva":4.75,"cgp":1.55,"vol":0.0394},{"pva":4.5,"cgp":1.55,"vol":0.0368},{"pva":4.25,"cgp":1.55,"vol":0.0342},{"pva":4,"cgp":1.55,"vol":0.0318},{"pva":3.75,"cgp":1.55,"vol":0.03},{"pva":3.5,"cgp":1.55,"vol":0.0282},{"pva":3.25,"cgp":1.55,"vol":0.0268},{"pva":3,"cgp":1.55,"vol":0.0255},{"pva":2.75,"cgp":1.55,"vol":0.0248},{"pva":2.5,"cgp":1.55,"vol":0.0242},
{"pva":6.5,"cgp":1.4,"vol":0.0645},{"pva":6.25,"cgp":1.4,"vol":0.0597},{"pva":6,"cgp":1.4,"vol":0.055},{"pva":5.75,"cgp":1.4,"vol":0.051},{"pva":5.5,"cgp":1.4,"vol":0.047},{"pva":5.25,"cgp":1.4,"vol":0.044},{"pva":5,"cgp":1.4,"vol":0.041},{"pva":4.75,"cgp":1.4,"vol":0.0385},{"pva":4.5,"cgp":1.4,"vol":0.036},{"pva":4.25,"cgp":1.4,"vol":0.0337},{"pva":4,"cgp":1.4,"vol":0.0315},{"pva":3.75,"cgp":1.4,"vol":0.03},{"pva":3.5,"cgp":1.4,"vol":0.0285},{"pva":3.25,"cgp":1.4,"vol":0.0275},{"pva":3,"cgp":1.4,"vol":0.0265},{"pva":2.75,"cgp":1.4,"vol":0.0262},{"pva":2.5,"cgp":1.4,"vol":0.026},
{"pva":6.5,"cgp":1.25,"vol":0.0612},{"pva":6.25,"cgp":1.25,"vol":0.0567},{"pva":6,"cgp":1.25,"vol":0.0522},{"pva":5.75,"cgp":1.25,"vol":0.0486},{"pva":5.5,"cgp":1.25,"vol":0.045},{"pva":5.25,"cgp":1.25,"vol":0.0424},{"pva":5,"cgp":1.25,"vol":0.0398},{"pva":4.75,"cgp":1.25,"vol":0.0378},{"pva":4.5,"cgp":1.25,"vol":0.0358},{"pva":4.25,"cgp":1.25,"vol":0.034},{"pva":4,"cgp":1.25,"vol":0.0322},{"pva":3.75,"cgp":1.25,"vol":0.0311},{"pva":3.5,"cgp":1.25,"vol":0.03},{"pva":3.25,"cgp":1.25,"vol":0.0295},{"pva":3,"cgp":1.25,"vol":0.029},{"pva":2.75,"cgp":1.25,"vol":0.029},{"pva":2.5,"cgp":1.25,"vol":0.029},
{"pva":6.5,"cgp":1.1,"vol":0.058},{"pva":6.25,"cgp":1.1,"vol":0.0537},{"pva":6,"cgp":1.1,"vol":0.0495},{"pva":5.75,"cgp":1.1,"vol":0.0462},{"pva":5.5,"cgp":1.1,"vol":0.043},{"pva":5.25,"cgp":1.1,"vol":0.0407},{"pva":5,"cgp":1.1,"vol":0.0385},{"pva":4.75,"cgp":1.1,"vol":0.037},{"pva":4.5,"cgp":1.1,"vol":0.0355},{"pva":4.25,"cgp":1.1,"vol":0.0342},{"pva":4,"cgp":1.1,"vol":0.033},{"pva":3.75,"cgp":1.1,"vol":0.0322},{"pva":3.5,"cgp":1.1,"vol":0.0315},{"pva":3.25,"cgp":1.1,"vol":0.0315},{"pva":3,"cgp":1.1,"vol":0.0315},{"pva":2.75,"cgp":1.1,"vol":0.0317},{"pva":2.5,"cgp":1.1,"vol":0.032},
{"pva":6.5,"cgp":0.95,"vol":0.054},{"pva":6.25,"cgp":0.95,"vol":0.0504},{"pva":6,"cgp":0.95,"vol":0.047},{"pva":5.75,"cgp":0.95,"vol":0.0444},{"pva":5.5,"cgp":0.95,"vol":0.0418},{"pva":5.25,"cgp":0.95,"vol":0.04},{"pva":5,"cgp":0.95,"vol":0.0382},{"pva":4.75,"cgp":0.95,"vol":0.0372},{"pva":4.5,"cgp":0.95,"vol":0.0362},{"pva":4.25,"cgp":0.95,"vol":0.0356},{"pva":4,"cgp":0.95,"vol":0.035},{"pva":3.75,"cgp":0.95,"vol":0.0346},{"pva":3.5,"cgp":0.95,"vol":0.0342},{"pva":3.25,"cgp":0.95,"vol":0.0344},{"pva":3,"cgp":0.95,"vol":0.0345},{"pva":2.75,"cgp":0.95,"vol":0.035},{"pva":2.5,"cgp":0.95,"vol":0.0355},
{"pva":6.5,"cgp":0.8,"vol":0.05},{"pva":6.25,"cgp":0.8,"vol":0.0472},{"pva":6,"cgp":0.8,"vol":0.0445},{"pva":5.75,"cgp":0.8,"vol":0.0425},{"pva":5.5,"cgp":0.8,"vol":0.0405},{"pva":5.25,"cgp":0.8,"vol":0.0392},{"pva":5,"cgp":0.8,"vol":0.038},{"pva":4.75,"cgp":0.8,"vol":0.0375},{"pva":4.5,"cgp":0.8,"vol":0.037},{"pva":4.25,"cgp":0.8,"vol":0.037},{"pva":4,"cgp":0.8,"vol":0.037},{"pva":3.75,"cgp":0.8,"vol":0.037},{"pva":3.5,"cgp":0.8,"vol":0.037},{"pva":3.25,"cgp":0.8,"vol":0.0372},{"pva":3,"cgp":0.8,"vol":0.0375},{"pva":2.75,"cgp":0.8,"vol":0.0382},{"pva":2.5,"cgp":0.8,"vol":0.039}],
"floorA":[
{"level":0.015,"part":0,"pva":2.5,"cgp":0.8},{"level":0.015,"part":0,"pva":6.5,"cgp":0.8},{"level":0.015,"part":0,"pva":6.5,"cgp":3.2},{"level":0.015,"part":0,"pva":2.5,"cgp":3.2},
{"level":0.005,"part":1,"pva":2.5,"cgp":1.81},{"level":0.005,"part":1,"pva":2.7,"cgp":1.59},{"level":0.005,"part":1,"pva":2.77,"cgp":1.37},{"level":0.005,"part":1,"pva":2.62,"cgp":1.11},{"level":0.005,"part":1,"pva":2.5,"cgp":1.04},
{"level":0.025,"part":2,"pva":2.5,"cgp":2.24},{"level":0.025,"part":2,"pva":3.0,"cgp":1.95},{"level":0.025,"part":2,"pva":3.24,"cgp":1.45},{"level":0.025,"part":2,"pva":3.26,"cgp":0.94},{"level":0.025,"part":2,"pva":3.26,"cgp":0.8},{"level":0.025,"part":2,"pva":6.5,"cgp":0.8},{"level":0.025,"part":2,"pva":6.5,"cgp":3.2},{"level":0.025,"part":2,"pva":2.5,"cgp":3.2},
{"level":0.035,"part":3,"pva":2.5,"cgp":2.57},{"level":0.035,"part":3,"pva":3.1,"cgp":2.38},{"level":0.035,"part":3,"pva":3.54,"cgp":2.17},{"level":0.035,"part":3,"pva":3.86,"cgp":1.71},{"level":0.035,"part":3,"pva":3.98,"cgp":1.11},{"level":0.035,"part":3,"pva":4.29,"cgp":0.8},{"level":0.035,"part":3,"pva":6.5,"cgp":0.8},{"level":0.035,"part":3,"pva":6.5,"cgp":3.2},{"level":0.035,"part":3,"pva":2.5,"cgp":3.2},
{"level":0.045,"part":4,"pva":2.5,"cgp":2.77},{"level":0.045,"part":4,"pva":3.82,"cgp":2.55},{"level":0.045,"part":4,"pva":4.52,"cgp":1.77},{"level":0.045,"part":4,"pva":4.8,"cgp":1.11},{"level":0.045,"part":4,"pva":5.2,"cgp":0.8},{"level":0.045,"part":4,"pva":6.5,"cgp":0.8},{"level":0.045,"part":4,"pva":6.5,"cgp":3.08},{"level":0.045,"part":4,"pva":5.7,"cgp":3.2},{"level":0.045,"part":4,"pva":2.5,"cgp":3.2},
{"level":0.055,"part":5,"pva":2.5,"cgp":2.95},{"level":0.055,"part":5,"pva":3.26,"cgp":3.01},{"level":0.055,"part":5,"pva":4.18,"cgp":3.2},{"level":0.055,"part":5,"pva":2.5,"cgp":3.2},
{"level":0.055,"part":6,"pva":6.02,"cgp":0.8},{"level":0.055,"part":6,"pva":5.66,"cgp":1.08},{"level":0.055,"part":6,"pva":5.34,"cgp":1.52},{"level":0.055,"part":6,"pva":5.22,"cgp":1.83},{"level":0.055,"part":6,"pva":5.38,"cgp":2.6},{"level":0.055,"part":6,"pva":5.9,"cgp":2.96},{"level":0.055,"part":6,"pva":6.5,"cgp":2.86},{"level":0.055,"part":6,"pva":6.5,"cgp":0.8},
{"level":0.065,"part":7,"pva":2.5,"cgp":3.1},{"level":0.065,"part":7,"pva":2.82,"cgp":3.2},{"level":0.065,"part":7,"pva":2.5,"cgp":3.2},
{"level":0.065,"part":8,"pva":6.5,"cgp":1.06},{"level":0.065,"part":8,"pva":5.96,"cgp":1.53},{"level":0.065,"part":8,"pva":6.0,"cgp":2.0},{"level":0.065,"part":8,"pva":6.14,"cgp":2.26},{"level":0.065,"part":8,"pva":6.5,"cgp":2.6}],
"floorB":[
{"level":0.025,"part":0,"pva":2.5,"cgp":0.8},{"level":0.025,"part":0,"pva":6.5,"cgp":0.8},{"level":0.025,"part":0,"pva":6.5,"cgp":3.2},{"level":0.025,"part":0,"pva":2.5,"cgp":3.2},
{"level":0.015,"part":1,"pva":2.5,"cgp":2.43},{"level":0.015,"part":1,"pva":3.07,"cgp":2.22},{"level":0.015,"part":1,"pva":3.34,"cgp":1.88},{"level":0.015,"part":1,"pva":3.36,"cgp":1.51},{"level":0.015,"part":1,"pva":3.24,"cgp":1.32},{"level":0.015,"part":1,"pva":3.0,"cgp":1.2},{"level":0.015,"part":1,"pva":2.5,"cgp":1.11},
{"level":0.005,"part":2,"pva":2.5,"cgp":2.0},{"level":0.005,"part":2,"pva":2.69,"cgp":1.83},{"level":0.005,"part":2,"pva":2.7,"cgp":1.66},{"level":0.005,"part":2,"pva":2.62,"cgp":1.52},{"level":0.005,"part":2,"pva":2.5,"cgp":1.47},
{"level":0.035,"part":3,"pva":2.5,"cgp":2.62},{"level":0.035,"part":3,"pva":3.18,"cgp":2.59},{"level":0.035,"part":3,"pva":3.58,"cgp":2.24},{"level":0.035,"part":3,"pva":3.89,"cgp":1.89},{"level":0.035,"part":3,"pva":4.1,"cgp":1.43},{"level":0.035,"part":3,"pva":4.12,"cgp":1.05},{"level":0.035,"part":3,"pva":4.27,"cgp":0.86},{"level":0.035,"part":3,"pva":4.38,"cgp":0.8},{"level":0.035,"part":3,"pva":6.5,"cgp":0.8},{"level":0.035,"part":3,"pva":6.5,"cgp":3.2},{"level":0.035,"part":3,"pva":2.5,"cgp":3.2},
{"level":0.035,"part":4,"pva":2.5,"cgp":0.9},{"level":0.035,"part":4,"pva":2.74,"cgp":0.8},{"level":0.035,"part":4,"pva":2.5,"cgp":0.8},
{"level":0.045,"part":5,"pva":2.5,"cgp":2.85},{"level":0.045,"part":5,"pva":3.36,"cgp":2.86},{"level":0.045,"part":5,"pva":3.82,"cgp":2.84},{"level":0.045,"part":5,"pva":4.08,"cgp":2.48},{"level":0.045,"part":5,"pva":4.26,"cgp":2.0},{"level":0.045,"part":5,"pva":4.48,"cgp":1.64},{"level":0.045,"part":5,"pva":4.82,"cgp":1.26},{"level":0.045,"part":5,"pva":5.24,"cgp":1.03},{"level":0.045,"part":5,"pva":5.88,"cgp":0.87},{"level":0.045,"part":5,"pva":6.3,"cgp":0.8},{"level":0.045,"part":5,"pva":6.5,"cgp":0.8},{"level":0.045,"part":5,"pva":6.5,"cgp":3.2},{"level":0.045,"part":5,"pva":2.5,"cgp":3.2},
{"level":0.055,"part":6,"pva":6.48,"cgp":0.93},{"level":0.055,"part":6,"pva":6.0,"cgp":1.04},{"level":0.055,"part":6,"pva":5.49,"cgp":1.21},{"level":0.055,"part":6,"pva":5.14,"cgp":1.41},{"level":0.055,"part":6,"pva":4.89,"cgp":1.85},{"level":0.055,"part":6,"pva":4.9,"cgp":2.14},{"level":0.055,"part":6,"pva":4.94,"cgp":2.43},{"level":0.055,"part":6,"pva":5.38,"cgp":2.84},{"level":0.055,"part":6,"pva":5.9,"cgp":3.08},{"level":0.055,"part":6,"pva":6.5,"cgp":3.03},{"level":0.055,"part":6,"pva":6.5,"cgp":0.93},
{"level":0.055,"part":7,"pva":2.5,"cgp":2.98},{"level":0.055,"part":7,"pva":3.5,"cgp":3.15},{"level":0.055,"part":7,"pva":3.7,"cgp":3.2},{"level":0.055,"part":7,"pva":2.5,"cgp":3.2},
{"level":0.065,"part":8,"pva":6.43,"cgp":1.06},{"level":0.065,"part":8,"pva":6.04,"cgp":1.22},{"level":0.065,"part":8,"pva":5.63,"cgp":1.43},{"level":0.065,"part":8,"pva":5.38,"cgp":1.67},{"level":0.065,"part":8,"pva":5.33,"cgp":1.84},{"level":0.065,"part":8,"pva":5.38,"cgp":2.14},{"level":0.065,"part":8,"pva":5.54,"cgp":2.46},{"level":0.065,"part":8,"pva":6.02,"cgp":2.77},{"level":0.065,"part":8,"pva":6.5,"cgp":2.89},{"level":0.065,"part":8,"pva":6.5,"cgp":1.06},
{"level":0.065,"part":9,"pva":2.5,"cgp":3.1},{"level":0.065,"part":9,"pva":2.9,"cgp":3.2},{"level":0.065,"part":9,"pva":2.5,"cgp":3.2},
{"level":0.075,"part":10,"pva":6.5,"cgp":1.23},{"level":0.075,"part":10,"pva":6.41,"cgp":1.26},{"level":0.075,"part":10,"pva":6.06,"cgp":1.44},{"level":0.075,"part":10,"pva":5.82,"cgp":1.64},{"level":0.075,"part":10,"pva":5.71,"cgp":1.83},{"level":0.075,"part":10,"pva":5.78,"cgp":2.24},{"level":0.075,"part":10,"pva":6.5,"cgp":2.72},
{"level":0.085,"part":11,"pva":6.5,"cgp":1.45},{"level":0.085,"part":11,"pva":6.37,"cgp":1.5},{"level":0.085,"part":11,"pva":6.18,"cgp":1.67},{"level":0.085,"part":11,"pva":6.08,"cgp":1.83},{"level":0.085,"part":11,"pva":6.14,"cgp":2.12},{"level":0.085,"part":11,"pva":6.5,"cgp":2.43}],
"gridVertical":[{"pva":2.5,"cgp":3.2},{"pva":3,"cgp":3.2},{"pva":3.5,"cgp":3.2},{"pva":4,"cgp":3.2},{"pva":4.5,"cgp":3.2},{"pva":5,"cgp":3.2},{"pva":5.5,"cgp":3.2},{"pva":6,"cgp":3.2},{"pva":6.5,"cgp":3.2},{"pva":6.5,"cgp":3.0},{"pva":6.5,"cgp":2.8},{"pva":6.5,"cgp":2.6},{"pva":6.5,"cgp":2.4},{"pva":6.5,"cgp":2.2},{"pva":6.5,"cgp":2.0},{"pva":6.5,"cgp":1.8},{"pva":6.5,"cgp":1.6},{"pva":6.5,"cgp":1.4},{"pva":6.5,"cgp":1.2},{"pva":6.5,"cgp":1.0},{"pva":6.5,"cgp":0.8}],
"gridLevels":[{"panel":"a","vol":0.02},{"panel":"a","vol":0.04},{"panel":"a","vol":0.06},{"panel":"a","vol":0.08},{"panel":"a","vol":0.1},{"panel":"b","vol":0},{"panel":"b","vol":0.02},{"panel":"b","vol":0.04},{"panel":"b","vol":0.06},{"panel":"b","vol":0.08},{"panel":"b","vol":0.1},{"panel":"c","vol":0.02},{"panel":"c","vol":0.03},{"panel":"c","vol":0.04},{"panel":"c","vol":0.05},{"panel":"c","vol":0.06},{"panel":"c","vol":0.07},{"panel":"c","vol":0.08},{"panel":"c","vol":0.09}],
"frame":[{"part":"floor","pva":2.5,"cgp":3.2,"h":0},{"part":"floor","pva":2.5,"cgp":0.8,"h":0},{"part":"floor","pva":6.5,"cgp":0.8,"h":0},{"part":"zaxis","pva":2.5,"cgp":3.2,"h":0},{"part":"zaxis","pva":2.5,"cgp":3.2,"h":1}],
"labels":[{"kind":"pvaTick","label":"2.5","pva":2.5,"cgp":0.8},{"kind":"pvaTick","label":"3.0","pva":3,"cgp":0.8},{"kind":"pvaTick","label":"3.5","pva":3.5,"cgp":0.8},{"kind":"pvaTick","label":"4.0","pva":4,"cgp":0.8},{"kind":"pvaTick","label":"4.5","pva":4.5,"cgp":0.8},{"kind":"pvaTick","label":"5.0","pva":5,"cgp":0.8},{"kind":"pvaTick","label":"5.5","pva":5.5,"cgp":0.8},{"kind":"pvaTick","label":"6.0","pva":6,"cgp":0.8},{"kind":"pvaTick","label":"6.5","pva":6.5,"cgp":0.8},
{"kind":"cgpTick","label":"3.2","pva":2.5,"cgp":3.2},{"kind":"cgpTick","label":"3.0","pva":2.5,"cgp":3.0},{"kind":"cgpTick","label":"2.8","pva":2.5,"cgp":2.8},{"kind":"cgpTick","label":"2.6","pva":2.5,"cgp":2.6},{"kind":"cgpTick","label":"2.4","pva":2.5,"cgp":2.4},{"kind":"cgpTick","label":"2.2","pva":2.5,"cgp":2.2},{"kind":"cgpTick","label":"2.0","pva":2.5,"cgp":2.0},{"kind":"cgpTick","label":"1.8","pva":2.5,"cgp":1.8},{"kind":"cgpTick","label":"1.6","pva":2.5,"cgp":1.6},{"kind":"cgpTick","label":"1.4","pva":2.5,"cgp":1.4},{"kind":"cgpTick","label":"1.2","pva":2.5,"cgp":1.2},{"kind":"cgpTick","label":"1.0","pva":2.5,"cgp":1.0},{"kind":"cgpTick","label":"0.8","pva":2.5,"cgp":0.8},
{"kind":"volTick","panel":"a","label":"0.10","pva":2.5,"cgp":3.2,"vol":0.1},{"kind":"volTick","panel":"a","label":"0.08","pva":2.5,"cgp":3.2,"vol":0.08},{"kind":"volTick","panel":"a","label":"0.06","pva":2.5,"cgp":3.2,"vol":0.06},{"kind":"volTick","panel":"a","label":"0.04","pva":2.5,"cgp":3.2,"vol":0.04},{"kind":"volTick","panel":"a","label":"0.02","pva":2.5,"cgp":3.2,"vol":0.02},
{"kind":"volTick","panel":"b","label":"0.10","pva":2.5,"cgp":3.2,"vol":0.1},{"kind":"volTick","panel":"b","label":"0.08","pva":2.5,"cgp":3.2,"vol":0.08},{"kind":"volTick","panel":"b","label":"0.06","pva":2.5,"cgp":3.2,"vol":0.06},{"kind":"volTick","panel":"b","label":"0.04","pva":2.5,"cgp":3.2,"vol":0.04},{"kind":"volTick","panel":"b","label":"0.02","pva":2.5,"cgp":3.2,"vol":0.02},{"kind":"volTick","panel":"b","label":"0.00","pva":2.5,"cgp":3.2,"vol":0},
{"kind":"volTick","panel":"c","label":"0.09","pva":2.5,"cgp":3.2,"vol":0.09},{"kind":"volTick","panel":"c","label":"0.08","pva":2.5,"cgp":3.2,"vol":0.08},{"kind":"volTick","panel":"c","label":"0.07","pva":2.5,"cgp":3.2,"vol":0.07},{"kind":"volTick","panel":"c","label":"0.06","pva":2.5,"cgp":3.2,"vol":0.06},{"kind":"volTick","panel":"c","label":"0.05","pva":2.5,"cgp":3.2,"vol":0.05},{"kind":"volTick","panel":"c","label":"0.04","pva":2.5,"cgp":3.2,"vol":0.04},{"kind":"volTick","panel":"c","label":"0.03","pva":2.5,"cgp":3.2,"vol":0.03},{"kind":"volTick","panel":"c","label":"0.02","pva":2.5,"cgp":3.2,"vol":0.02},
{"kind":"pvaTitle","label":"PVA concentration (%)","pva":4.5,"cgp":0.8},{"kind":"cgpTitle","label":"CGP concentration (%)","pva":2.5,"cgp":2.0},{"kind":"volTitle","label":"Volume (cm³)","pva":2.5,"cgp":3.2}],
"captions":[{"panel":"a","seq":0,"text":"("},{"panel":"a","seq":1,"text":"a"},{"panel":"a","seq":2,"text":")"},{"panel":"b","seq":0,"text":"("},{"panel":"b","seq":1,"text":"b"},{"panel":"b","seq":2,"text":")"},{"panel":"c","seq":0,"text":"("},{"panel":"c","seq":1,"text":"c"},{"panel":"c","seq":2,"text":")"}]
},
"layer":[
{"data":{"name":"gridVertical"},"transform":[{"calculate":"['a','b','c']","as":"panel"},{"flatten":["panel"]},{"calculate":"[0,1]","as":"h"},{"flatten":["h"]},{"calculate":"datum.panel+datum.pva+'_'+datum.cgp","as":"id"},
{"calculate":"datum.panel=='b'?848:datum.panel=='c'?424:0","as":"ox"},{"calculate":"datum.panel=='c'?783:0","as":"oy"},{"calculate":"(datum.pva-2.5)/4","as":"u"},{"calculate":"(datum.cgp-0.8)/2.4","as":"w"},{"calculate":"369+311*datum.u-256*datum.w","as":"x0"},{"calculate":"668-160*datum.u-188*datum.w","as":"y0"},{"calculate":"datum.ox+410+(datum.x0-410)*(1+0.0556*datum.h)","as":"sx"},{"calculate":"datum.oy+datum.y0-(385-36*datum.u-37*datum.w)*datum.h","as":"sy"}],
"mark":{"type":"line","stroke":"#dadada","strokeWidth":2.5},"encoding":{"detail":{"field":"id"},"order":{"field":"h","type":"quantitative"}}},
{"data":{"name":"gridLevels"},"transform":[{"calculate":"[2.5,6.5,6.5]","as":"pva"},{"calculate":"[3.2,3.2,0.8]","as":"cgp"},{"calculate":"[0,1,2]","as":"seq"},{"flatten":["pva","cgp","seq"]},{"calculate":"datum.panel+datum.vol","as":"id"},{"calculate":"(datum.vol-(datum.panel=='a'?0:datum.panel=='b'?-0.02:0.01))/(datum.panel=='a'?0.1:datum.panel=='b'?0.12:0.08)","as":"h"},
{"calculate":"datum.panel=='b'?848:datum.panel=='c'?424:0","as":"ox"},{"calculate":"datum.panel=='c'?783:0","as":"oy"},{"calculate":"(datum.pva-2.5)/4","as":"u"},{"calculate":"(datum.cgp-0.8)/2.4","as":"w"},{"calculate":"369+311*datum.u-256*datum.w","as":"x0"},{"calculate":"668-160*datum.u-188*datum.w","as":"y0"},{"calculate":"datum.ox+410+(datum.x0-410)*(1+0.0556*datum.h)","as":"sx"},{"calculate":"datum.oy+datum.y0-(385-36*datum.u-37*datum.w)*datum.h","as":"sy"}],
"mark":{"type":"line","stroke":"#dadada","strokeWidth":2.5},"encoding":{"detail":{"field":"id"},"order":{"field":"seq","type":"quantitative"}}},
{"data":{"name":"floorA"},"transform":[{"window":[{"op":"row_number","as":"seq"}]},{"calculate":"369+311*(datum.pva-2.5)/4-256*(datum.cgp-0.8)/2.4","as":"sx"},{"calculate":"668-160*(datum.pva-2.5)/4-188*(datum.cgp-0.8)/2.4","as":"sy"}],
"mark":{"type":"line","strokeWidth":0},"encoding":{"detail":{"field":"part"},"order":{"field":"seq","type":"quantitative"},"fill":{"field":"level","type":"quantitative","legend":null,"scale":{"type":"threshold","domain":[0.01,0.02,0.03,0.04,0.05,0.06],"range":["#00584e","#007000","#00f000","#c8ff00","#ff8000","#ff0000","#a00000"]}}}},
{"data":{"name":"floorB"},"transform":[{"window":[{"op":"row_number","as":"seq"}]},{"calculate":"848+369+311*(datum.pva-2.5)/4-256*(datum.cgp-0.8)/2.4","as":"sx"},{"calculate":"668-160*(datum.pva-2.5)/4-188*(datum.cgp-0.8)/2.4","as":"sy"}],
"mark":{"type":"line","strokeWidth":0},"encoding":{"detail":{"field":"part"},"order":{"field":"seq","type":"quantitative"},"fill":{"field":"level","type":"quantitative","legend":null,"scale":{"type":"threshold","domain":[0.01,0.02,0.03,0.04,0.05,0.06,0.07,0.08],"range":["#00584e","#007000","#00b000","#00f000","#d0ff00","#ff9000","#ff0000","#c00000","#8b0000"]}}}},
{"data":{"name":"surfaceC"},"transform":[{"calculate":"424+369+311*(datum.pva-2.5)/4-256*(datum.cgp-0.8)/2.4","as":"px"},{"calculate":"783+668-160*(datum.pva-2.5)/4-188*(datum.cgp-0.8)/2.4","as":"py"},
{"window":[{"op":"row_number","as":"rn"},{"op":"lag","field":"px","param":1,"as":"px1"},{"op":"lag","field":"py","param":1,"as":"py1"},{"op":"lag","field":"px","param":18,"as":"px2"},{"op":"lag","field":"py","param":18,"as":"py2"},{"op":"lag","field":"px","param":17,"as":"px3"},{"op":"lag","field":"py","param":17,"as":"py3"},{"op":"lag","field":"vol","param":1,"as":"v1"},{"op":"lag","field":"vol","param":18,"as":"v2"},{"op":"lag","field":"vol","param":17,"as":"v3"}]},
{"filter":"datum.pva<6.5&&datum.cgp<3.2"},{"calculate":"(datum.vol+datum.v1+datum.v2+datum.v3)/4","as":"cell"},{"calculate":"[datum.px,datum.px1,datum.px2,datum.px3,datum.px]","as":"sx"},{"calculate":"[datum.py,datum.py1,datum.py2,datum.py3,datum.py]","as":"sy"},{"calculate":"[0,1,2,3,4]","as":"k"},{"flatten":["sx","sy","k"]}],
"mark":{"type":"line","strokeWidth":1.5,"strokeJoin":"round"},"encoding":{"detail":{"field":"rn"},"order":{"field":"k","type":"quantitative"},
"fill":{"field":"cell","type":"quantitative","legend":null,"scale":{"type":"threshold","domain":[0.0245,0.0265,0.0285,0.031,0.0335,0.036,0.038,0.04,0.042,0.044,0.046,0.048,0.05,0.052,0.054,0.056,0.058,0.06,0.062,0.066,0.07,0.074,0.078],"range":["#00584e","#006a1e","#007a00","#008800","#009c00","#00b000","#00c400","#00d800","#00f000","#20ff00","#70ff00","#a8ff00","#d0ff00","#f0ff00","#ffe800","#ffc000","#ff9800","#ff7000","#ff3800","#ff0000","#e00000","#c00000","#a00000","#8b0000"]}},
"stroke":{"field":"cell","type":"quantitative","legend":null,"scale":{"type":"threshold","domain":[0.0245,0.0265,0.0285,0.031,0.0335,0.036,0.038,0.04,0.042,0.044,0.046,0.048,0.05,0.052,0.054,0.056,0.058,0.06,0.062,0.066,0.07,0.074,0.078],"range":["#00584e","#006a1e","#007a00","#008800","#009c00","#00b000","#00c400","#00d800","#00f000","#20ff00","#70ff00","#a8ff00","#d0ff00","#f0ff00","#ffe800","#ffc000","#ff9800","#ff7000","#ff3800","#ff0000","#e00000","#c00000","#a00000","#8b0000"]}}}},
{"data":{"name":"frame"},"transform":[{"calculate":"['a','b','c']","as":"panel"},{"flatten":["panel"]},{"window":[{"op":"row_number","as":"seq"}]},{"calculate":"datum.panel+datum.part","as":"id"},
{"calculate":"datum.panel=='b'?848:datum.panel=='c'?424:0","as":"ox"},{"calculate":"datum.panel=='c'?783:0","as":"oy"},{"calculate":"(datum.pva-2.5)/4","as":"u"},{"calculate":"(datum.cgp-0.8)/2.4","as":"w"},{"calculate":"369+311*datum.u-256*datum.w","as":"x0"},{"calculate":"668-160*datum.u-188*datum.w","as":"y0"},{"calculate":"datum.ox+410+(datum.x0-410)*(1+0.0556*datum.h)","as":"sx"},{"calculate":"datum.oy+datum.y0-(385-36*datum.u-37*datum.w)*datum.h","as":"sy"}],
"mark":{"type":"line","stroke":"#111111","strokeWidth":3},"encoding":{"detail":{"field":"id"},"order":{"field":"seq","type":"quantitative"}}},
{"data":{"name":"labels"},"transform":[{"calculate":"datum.panel?[datum.panel]:['a','b','c']","as":"panelList"},{"flatten":["panelList"]},{"calculate":"datum.kind=='volTitle'?0.5:datum.kind=='volTick'?(datum.vol-(datum.panelList=='a'?0:datum.panelList=='b'?-0.02:0.01))/(datum.panelList=='a'?0.1:datum.panelList=='b'?0.12:0.08):0","as":"h"},
{"calculate":"datum.panelList=='b'?848:datum.panelList=='c'?424:0","as":"ox"},{"calculate":"datum.panelList=='c'?783:0","as":"oy"},{"calculate":"(datum.pva-2.5)/4","as":"u"},{"calculate":"(datum.cgp-0.8)/2.4","as":"w"},{"calculate":"369+311*datum.u-256*datum.w","as":"x0"},{"calculate":"668-160*datum.u-188*datum.w","as":"y0"},
{"calculate":"{pvaTick:20,cgpTick:-26,volTick:-33,pvaTitle:55.5,cgpTitle:-76.3,volTitle:-81}[datum.kind]","as":"dx"},{"calculate":"{pvaTick:13.5,cgpTick:10,volTick:16,pvaTitle:39.5,cgpTitle:27.7,volTitle:40}[datum.kind]","as":"dy"},{"calculate":"{pvaTick:35,cgpTick:-22,volTick:-12,pvaTitle:-26,cgpTitle:37,volTitle:82}[datum.kind]","as":"rot"},{"calculate":"indexof(datum.kind,'Title')>0?41:31","as":"fs"},
{"calculate":"datum.dx+datum.ox+410+(datum.x0-410)*(1+0.0556*datum.h)","as":"sx"},{"calculate":"datum.dy+datum.oy+datum.y0-(385-36*datum.u-37*datum.w)*datum.h","as":"sy"}],
"mark":{"type":"text","font":"DejaVu Sans","color":"#4a4a4a","align":"center","baseline":"middle"},"encoding":{"text":{"field":"label"},"angle":{"field":"rot","type":"quantitative","scale":null},"size":{"field":"fs","type":"quantitative","scale":null}}},
{"data":{"name":"captions"},"transform":[{"filter":"datum.seq!=1"},{"calculate":"(datum.panel=='b'?848:datum.panel=='c'?424:0)+363+(datum.seq-1)*15","as":"sx"},{"calculate":"(datum.panel=='c'?785:0)+750","as":"sy"}],
"mark":{"type":"text","font":"Liberation Serif","fontSize":78,"color":"#000000","align":"center","baseline":"middle"},"encoding":{"text":{"field":"text"}}},
{"data":{"name":"captions"},"transform":[{"filter":"datum.seq==1"},{"calculate":"(datum.panel=='b'?848:datum.panel=='c'?424:0)+363","as":"sx"},{"calculate":"(datum.panel=='c'?785:0)+750","as":"sy"}],
"mark":{"type":"text","font":"Liberation Serif","fontSize":78,"fontWeight":"bold","color":"#000000","align":"center","baseline":"middle"},"encoding":{"text":{"field":"text"}}},
{"data":{"name":"surfaceA"},"transform":[{"calculate":"(datum.pva-2.5)/4","as":"u"},{"calculate":"(datum.cgp-0.8)/2.4","as":"w"},{"calculate":"datum.vol/0.1","as":"h"},{"calculate":"369+311*datum.u-256*datum.w","as":"x0"},{"calculate":"668-160*datum.u-188*datum.w","as":"y0"},{"calculate":"410+(datum.x0-410)*(1+0.0556*datum.h)","as":"px"},{"calculate":"datum.y0-(385-36*datum.u-37*datum.w)*datum.h","as":"py"},
{"window":[{"op":"row_number","as":"rn"},{"op":"lag","field":"px","param":1,"as":"px1"},{"op":"lag","field":"py","param":1,"as":"py1"},{"op":"lag","field":"px","param":18,"as":"px2"},{"op":"lag","field":"py","param":18,"as":"py2"},{"op":"lag","field":"px","param":17,"as":"px3"},{"op":"lag","field":"py","param":17,"as":"py3"},{"op":"lag","field":"vol","param":1,"as":"v1"},{"op":"lag","field":"vol","param":18,"as":"v2"},{"op":"lag","field":"vol","param":17,"as":"v3"}]},
{"filter":"datum.pva<6.5&&datum.cgp<3.2"},{"calculate":"(datum.vol+datum.v1+datum.v2+datum.v3)/4","as":"cell"},{"calculate":"[datum.px,datum.px1,datum.px2,datum.px3,datum.px]","as":"sx"},{"calculate":"[datum.py,datum.py1,datum.py2,datum.py3,datum.py]","as":"sy"},{"calculate":"[0,1,2,3,4]","as":"k"},{"flatten":["sx","sy","k"]}],
"mark":{"type":"line","stroke":"#111111","strokeWidth":3,"strokeJoin":"round"},"encoding":{"detail":{"field":"rn"},"order":{"field":"k","type":"quantitative"},"fill":{"field":"cell","type":"quantitative","legend":null,"scale":{"type":"threshold","domain":[0.01,0.02,0.03,0.04,0.05,0.06],"range":["#00584e","#007000","#00f000","#c8ff00","#ff8000","#ff0000","#a00000"]}}}},
{"data":{"name":"surfaceB"},"transform":[{"calculate":"(datum.pva-2.5)/4","as":"u"},{"calculate":"(datum.cgp-0.8)/2.4","as":"w"},{"calculate":"(datum.vol+0.02)/0.12","as":"h"},{"calculate":"369+311*datum.u-256*datum.w","as":"x0"},{"calculate":"668-160*datum.u-188*datum.w","as":"y0"},{"calculate":"848+410+(datum.x0-410)*(1+0.0556*datum.h)","as":"px"},{"calculate":"datum.y0-(385-36*datum.u-37*datum.w)*datum.h","as":"py"},
{"window":[{"op":"row_number","as":"rn"},{"op":"lag","field":"px","param":1,"as":"px1"},{"op":"lag","field":"py","param":1,"as":"py1"},{"op":"lag","field":"px","param":18,"as":"px2"},{"op":"lag","field":"py","param":18,"as":"py2"},{"op":"lag","field":"px","param":17,"as":"px3"},{"op":"lag","field":"py","param":17,"as":"py3"},{"op":"lag","field":"vol","param":1,"as":"v1"},{"op":"lag","field":"vol","param":18,"as":"v2"},{"op":"lag","field":"vol","param":17,"as":"v3"}]},
{"filter":"datum.pva<6.5&&datum.cgp<3.2"},{"calculate":"(datum.vol+datum.v1+datum.v2+datum.v3)/4","as":"cell"},{"calculate":"[datum.px,datum.px1,datum.px2,datum.px3,datum.px]","as":"sx"},{"calculate":"[datum.py,datum.py1,datum.py2,datum.py3,datum.py]","as":"sy"},{"calculate":"[0,1,2,3,4]","as":"k"},{"flatten":["sx","sy","k"]}],
"mark":{"type":"line","stroke":"#111111","strokeWidth":3,"strokeJoin":"round"},"encoding":{"detail":{"field":"rn"},"order":{"field":"k","type":"quantitative"},"fill":{"field":"cell","type":"quantitative","legend":null,"scale":{"type":"threshold","domain":[0.01,0.02,0.03,0.04,0.05,0.06,0.07,0.08],"range":["#00584e","#007000","#00b000","#00f000","#d0ff00","#ff9000","#ff0000","#c00000","#8b0000"]}}}},
{"data":{"name":"surfaceC"},"transform":[{"calculate":"(datum.pva-2.5)/4","as":"u"},{"calculate":"(datum.cgp-0.8)/2.4","as":"w"},{"calculate":"(datum.vol-0.01)/0.08","as":"h"},{"calculate":"369+311*datum.u-256*datum.w","as":"x0"},{"calculate":"668-160*datum.u-188*datum.w","as":"y0"},{"calculate":"424+410+(datum.x0-410)*(1+0.0556*datum.h)","as":"px"},{"calculate":"783+datum.y0-(385-36*datum.u-37*datum.w)*datum.h","as":"py"},
{"window":[{"op":"row_number","as":"rn"},{"op":"lag","field":"px","param":1,"as":"px1"},{"op":"lag","field":"py","param":1,"as":"py1"},{"op":"lag","field":"px","param":18,"as":"px2"},{"op":"lag","field":"py","param":18,"as":"py2"},{"op":"lag","field":"px","param":17,"as":"px3"},{"op":"lag","field":"py","param":17,"as":"py3"},{"op":"lag","field":"vol","param":1,"as":"v1"},{"op":"lag","field":"vol","param":18,"as":"v2"},{"op":"lag","field":"vol","param":17,"as":"v3"}]},
{"filter":"datum.pva<6.5&&datum.cgp<3.2"},{"calculate":"(datum.vol+datum.v1+datum.v2+datum.v3)/4","as":"cell"},{"calculate":"[datum.px,datum.px1,datum.px2,datum.px3,datum.px]","as":"sx"},{"calculate":"[datum.py,datum.py1,datum.py2,datum.py3,datum.py]","as":"sy"},{"calculate":"[0,1,2,3,4]","as":"k"},{"flatten":["sx","sy","k"]}],
"mark":{"type":"line","stroke":"#111111","strokeWidth":3,"strokeJoin":"round"},"encoding":{"detail":{"field":"rn"},"order":{"field":"k","type":"quantitative"},"fill":{"field":"cell","type":"quantitative","legend":null,"scale":{"type":"threshold","domain":[0.0245,0.0265,0.0285,0.031,0.0335,0.036,0.038,0.04,0.042,0.044,0.046,0.048,0.05,0.052,0.054,0.056,0.058,0.06,0.062,0.066,0.07,0.074,0.078],"range":["#00584e","#006a1e","#007a00","#008800","#009c00","#00b000","#00c400","#00d800","#00f000","#20ff00","#70ff00","#a8ff00","#d0ff00","#f0ff00","#ffe800","#ffc000","#ff9800","#ff7000","#ff3800","#ff0000","#e00000","#c00000","#a00000","#8b0000"]}}}}
]}
